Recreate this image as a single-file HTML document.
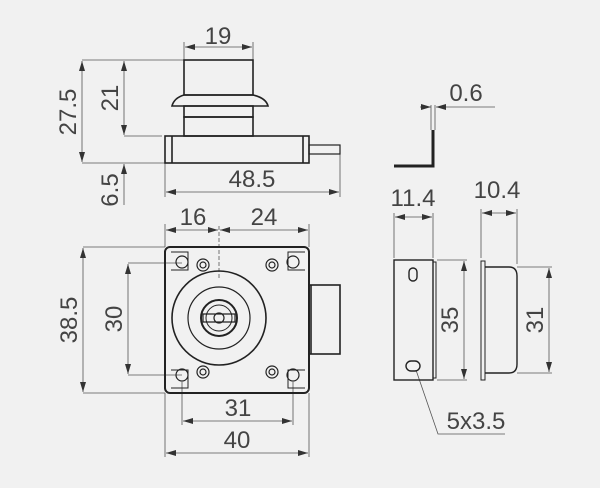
<!DOCTYPE html>
<html><head><style>
html,body{margin:0;padding:0;background:#f1f1f1;}
svg{display:block}
text{font-family:"Liberation Sans Narrow","Liberation Sans",sans-serif;font-size:24px;fill:#444;}
</style></head><body>
<svg width="600" height="488" viewBox="0 0 600 488" xmlns="http://www.w3.org/2000/svg">
<defs>
<marker id="a" viewBox="0 0 10 6" refX="10" refY="3" markerWidth="10" markerHeight="6" orient="auto-start-reverse" markerUnits="userSpaceOnUse"><path d="M0,0 L10,3 L0,6 Z" fill="#333"/></marker>
</defs>
<g stroke="#555" stroke-width="0.8" fill="none">
<!-- top view dims -->
<line x1="82" y1="60" x2="184" y2="60"/>
<line x1="124" y1="136" x2="162" y2="136"/>
<line x1="82" y1="163" x2="165" y2="163"/>
<line x1="82" y1="61" x2="82" y2="162" marker-start="url(#a)" marker-end="url(#a)"/>
<line x1="124" y1="61" x2="124" y2="135" marker-start="url(#a)" marker-end="url(#a)"/>
<line x1="124" y1="205" x2="124" y2="164" marker-end="url(#a)"/>
<line x1="184" y1="42" x2="184" y2="60"/><line x1="253" y1="42" x2="253" y2="60"/>
<line x1="185" y1="47" x2="252" y2="47" marker-start="url(#a)" marker-end="url(#a)"/>
<line x1="165" y1="163" x2="165" y2="197"/><line x1="340" y1="154" x2="340" y2="197"/>
<line x1="166" y1="192" x2="339" y2="192" marker-start="url(#a)" marker-end="url(#a)"/>
<!-- front view dims -->
<line x1="165" y1="224" x2="165" y2="247"/><line x1="309" y1="224" x2="309" y2="247"/>
<line x1="166" y1="230" x2="218" y2="230" marker-start="url(#a)" marker-end="url(#a)"/>
<line x1="220" y1="230" x2="308" y2="230" marker-start="url(#a)" marker-end="url(#a)"/>
<line x1="219" y1="226" x2="219" y2="280" stroke-dasharray="4,2"/>
<line x1="83" y1="247" x2="165" y2="247"/><line x1="83" y1="393" x2="165" y2="393"/>
<line x1="83" y1="248" x2="83" y2="392" marker-start="url(#a)" marker-end="url(#a)"/>
<line x1="128" y1="263" x2="182" y2="263"/><line x1="128" y1="375" x2="182" y2="375"/>
<line x1="128" y1="264" x2="128" y2="374" marker-start="url(#a)" marker-end="url(#a)"/>
<line x1="182" y1="382" x2="182" y2="425"/><line x1="293" y1="382" x2="293" y2="425"/>
<line x1="183" y1="421" x2="292" y2="421" marker-start="url(#a)" marker-end="url(#a)"/>
<line x1="165" y1="393" x2="165" y2="457"/><line x1="309" y1="393" x2="309" y2="457"/>
<line x1="166" y1="453" x2="308" y2="453" marker-start="url(#a)" marker-end="url(#a)"/>
<!-- right dims -->
<line x1="420" y1="107" x2="431" y2="107" marker-end="url(#a)"/>
<line x1="495" y1="107" x2="436" y2="107" marker-end="url(#a)"/>
<line x1="431" y1="105" x2="431" y2="130"/><line x1="435" y1="105" x2="435" y2="130"/>
<line x1="394" y1="213" x2="394" y2="258"/><line x1="433" y1="213" x2="433" y2="258"/>
<line x1="395" y1="217" x2="432" y2="217" marker-start="url(#a)" marker-end="url(#a)"/>
<line x1="437" y1="260" x2="467" y2="260"/><line x1="437" y1="380" x2="467" y2="380"/>
<line x1="464" y1="261" x2="464" y2="379" marker-start="url(#a)" marker-end="url(#a)"/>
<line x1="481" y1="209" x2="481" y2="258"/><line x1="517" y1="209" x2="517" y2="264"/>
<line x1="482" y1="213" x2="516" y2="213" marker-start="url(#a)" marker-end="url(#a)"/>
<line x1="517" y1="267" x2="552" y2="267"/><line x1="517" y1="373" x2="552" y2="373"/>
<line x1="549" y1="268" x2="549" y2="372" marker-start="url(#a)" marker-end="url(#a)"/>
<polyline points="416,370 438,434 505,434"/>
</g>
<g stroke="#222" stroke-width="1.6" fill="none">
<!-- top view -->
<rect x="184" y="60" width="69" height="35"/>
<path d="M184,95 L253,95 Q266,98 268,106 L172,106 Q174,98 184,95 Z"/>
<rect x="184" y="106" width="69" height="11"/>
<rect x="184" y="117" width="69" height="19"/>
<rect x="165" y="136" width="144" height="27"/>
<line x1="172" y1="136" x2="172" y2="163"/><line x1="303" y1="136" x2="303" y2="163"/>
<rect x="309" y="145" width="31" height="9" stroke-width="1.2"/>
<!-- front -->
<rect x="165" y="247" width="144" height="146" rx="5" stroke-width="2"/>
<rect x="309" y="285" width="31" height="69"/>
<line x1="311" y1="285" x2="311" y2="354"/>
<path d="M171,252 L188,252 L188,270 L171,270 M305,252 L288,252 L288,270 L305,270 M171,388 L188,388 L188,370 L171,370 M305,388 L288,388 L288,370 L305,370" stroke-width="1"/>
<circle cx="219" cy="318" r="47"/><circle cx="219" cy="318" r="31" stroke-width="1.2"/>
<circle cx="219" cy="318" r="18" stroke-width="2"/><circle cx="219" cy="318" r="13" stroke-width="1"/>
<path d="M203,314 L235,314 L235,322 L203,322 Z M214,318 A5,5 0 0 1 224,318 A5,5 0 0 1 214,318" stroke-width="1.2"/>
<g stroke-width="1.2">
<circle cx="182" cy="262" r="6"/><circle cx="293" cy="262" r="6"/><circle cx="182" cy="375" r="6"/><circle cx="293" cy="375" r="6"/>
<circle cx="203" cy="265" r="6"/><circle cx="203" cy="265" r="3"/><circle cx="272" cy="265" r="6"/><circle cx="272" cy="265" r="3"/>
<circle cx="203" cy="372" r="6"/><circle cx="203" cy="372" r="3"/><circle cx="272" cy="372" r="6"/><circle cx="272" cy="372" r="3"/>
</g>
<!-- bracket -->
<path d="M394,166 L433,166 L433,130" stroke-width="3"/>
<!-- strike plate -->
<rect x="394" y="260" width="39" height="120" stroke-width="1.4"/>
<rect x="433" y="262" width="3" height="116" stroke-width="1"/>
<rect x="409" y="268" width="8" height="13" rx="4" stroke-width="1.4"/>
<rect x="406" y="361" width="14" height="10" rx="5" stroke-width="1.4"/>
<rect x="481" y="261" width="4" height="119" stroke-width="1"/>
<path d="M485,267 L509,267 Q517,267 517,276 L517,364 Q517,373 509,373 L485,373" stroke-width="1.4"/>
</g>
<g>
<text x="218" y="44" text-anchor="middle">19</text>
<text transform="translate(76,112) rotate(-90)" text-anchor="middle">27.5</text>
<text transform="translate(118,98) rotate(-90)" text-anchor="middle">21</text>
<text transform="translate(118,190) rotate(-90)" text-anchor="middle">6.5</text>
<text x="252" y="187" text-anchor="middle">48.5</text>
<text x="193" y="225" text-anchor="middle">16</text>
<text x="264" y="225" text-anchor="middle">24</text>
<text transform="translate(77,320) rotate(-90)" text-anchor="middle">38.5</text>
<text transform="translate(122,319) rotate(-90)" text-anchor="middle">30</text>
<text x="238" y="416" text-anchor="middle">31</text>
<text x="237" y="448" text-anchor="middle">40</text>
<text x="466" y="101" text-anchor="middle">0.6</text>
<text x="413" y="206" text-anchor="middle">11.4</text>
<text x="497" y="198" text-anchor="middle">10.4</text>
<text transform="translate(458,320) rotate(-90)" text-anchor="middle">35</text>
<text transform="translate(543,320) rotate(-90)" text-anchor="middle">31</text>
<text x="476" y="429" text-anchor="middle">5x3.5</text>
</g>
</svg>
</body></html>
